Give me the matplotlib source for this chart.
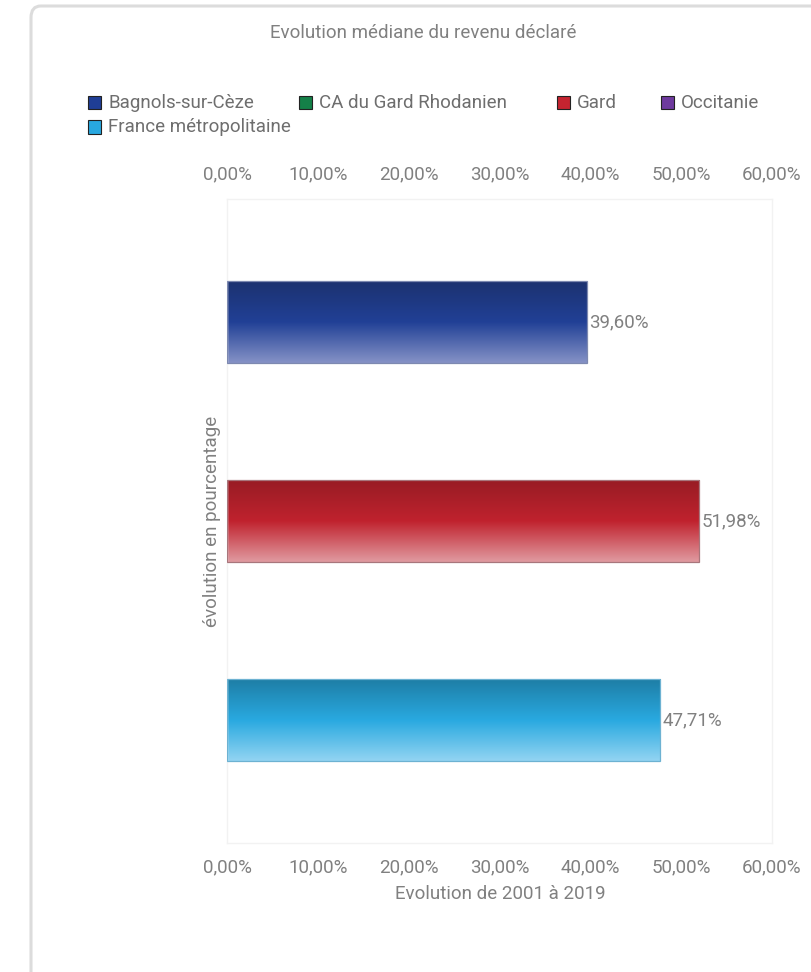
import numpy as np
import matplotlib.pyplot as plt
from matplotlib.patches import Rectangle, FancyBboxPatch
from matplotlib.colors import LinearSegmentedColormap

plt.rcParams['font.family'] = ['Roboto', 'DejaVu Sans']

# données
series = ['Bagnols-sur-Cèze', 'CA du Gard Rhodanien', 'Gard', 'Occitanie',
          'France métropolitaine']
series_colors = ['#1f3e96', '#148048', '#c52430', '#6e3a9e', '#28a8e0']
bar_names = ['Bagnols-sur-Cèze', 'Gard', 'France métropolitaine']
bar_values = [39.60, 51.98, 47.71]
# dégradés (haut, milieu, bas)
bar_grads = [('#1c3270', '#214096', '#8592c6'),
             ('#981c24', '#c0222e', '#e09aa0'),
             ('#1e7ea6', '#29a9e0', '#92d4f2')]
bar_edges = ['#7d89b0', '#a8767c', '#6db2d2']
xticks = [0, 10, 20, 30, 40, 50, 60]

W, H = 811, 972
fig = plt.figure(figsize=(W / 100, H / 100), dpi=100)
fig.patch.set_facecolor('white')

# cadre de la carte
card = FancyBboxPatch((31 / W, 1 - 1100 / H), 900 / W, 1094 / H,
                      boxstyle='round,pad=0,rounding_size=0.012',
                      transform=fig.transFigure, facecolor='white',
                      edgecolor='#dcdcdc', linewidth=2.2, zorder=-5)
fig.patches.append(card)

gray = '#808080'
fs = 13.5
fig.text(423 / W, 1 - 33 / H, 'Evolution médiane du revenu déclaré',
         ha='center', va='center', fontsize=fs, color=gray)

# légende
leg_pos = [(88, 103), (299, 103), (557, 103), (661, 103), (88, 127)]
for name, col, (lx, ly) in zip(series, series_colors, leg_pos):
    fig.patches.append(Rectangle((lx / W, 1 - (ly + 6.5) / H), 13 / W, 13 / H,
                                 transform=fig.transFigure, facecolor=col,
                                 edgecolor='#222222', linewidth=0.8))
    fig.text((lx + 20) / W, 1 - ly / H, name, ha='left', va='center',
             fontsize=fs, color='#6e6e6e')

ax = fig.add_axes([227 / W, 1 - 843 / H, 545 / W, 644 / H])
ypos = np.arange(len(bar_values))
bars = ax.barh(ypos, bar_values, height=0.41, color='none',
               edgecolor=bar_edges, linewidth=0.9, zorder=3)
for b, grad in zip(bars, bar_grads):
    cmap = LinearSegmentedColormap.from_list('g', [(0, grad[0]), (0.5, grad[1]),
                                                   (1, grad[2])])
    x0, y0 = b.get_x(), b.get_y()
    img = ax.imshow(np.linspace(0, 1, 200).reshape(-1, 1), cmap=cmap,
                    aspect='auto', extent=(x0, x0 + b.get_width(),
                                           y0 + b.get_height(), y0),
                    zorder=2, interpolation='bilinear')
    img.set_clip_path(b)

for y, v in zip(ypos, bar_values):
    ax.text(v + 0.25, y, f'{v:.2f}%'.replace('.', ','), ha='left', va='center',
            fontsize=fs, color=gray)

ax.set_xlim(0, 60)
ax.set_ylim(2.618, -0.618)
ax.set_xticks(xticks)
ax.set_xticklabels([f'{t:.2f}%'.replace('.', ',') for t in xticks])
ax.set_yticks([])
ax.tick_params(axis='x', top=False, bottom=False, labeltop=True,
               labelbottom=True, pad=7.5, labelsize=fs, labelcolor=gray)
for sp in ax.spines.values():
    sp.set_color('#f2f2f2')
    sp.set_linewidth(1)

fig.text(212 / W, 1 - 521 / H, 'évolution en pourcentage', rotation=90,
         ha='center', va='center', fontsize=fs, color=gray)
fig.text(500 / W, 1 - 894 / H, 'Evolution de 2001 à 2019', ha='center',
         va='center', fontsize=fs, color=gray)

fig.savefig('out.png', dpi=100, facecolor='white')
